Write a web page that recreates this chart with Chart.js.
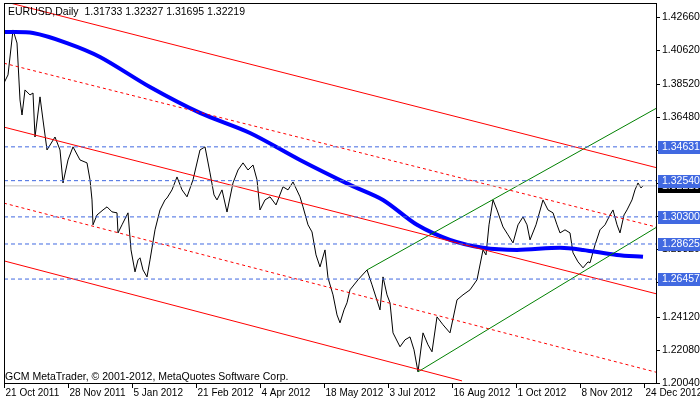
<!DOCTYPE html>
<html><head><meta charset="utf-8">
<script src="https://cdn.jsdelivr.net/npm/chart.js@4"></script>
<style>html,body{margin:0;padding:0;background:#fff}#c{display:block}</style>
</head><body>
<div style="width:700px;height:402px"><canvas id="c"></canvas></div>
<script>
// bar index (daily bars), close prices
const priceBars = [0,2,4.5,6.5,8,9,10.5,13,14.5,15.5,18,19.5,21.5,25.5,28,29.5,32,34.5,38,41.5,43,44,44.5,46.5,49.5,51.5,54,56.5,57,59,62,63.5,65.5,67,68,69.5,71.5,73,75.5,78,80.5,81.5,84,86.5,89,91.5,94.5,98,100.5,103,105,106.5,109,111.5,114.5,117,119.5,122,124.5,126.5,128,130.5,133,136,139.5,142,144.5,148,149.5,152,154,156,158,160.5,162,164.5,166.5,168,170,171.5,173,177,181.5,184,188,189.5,191.5,193,194.5,198,200.5,203,205,207,209.5,212,214,216.5,219.5,223,226.5,229.5,233,236.5,239.5,241,242.5,244.5,246.5,249.5,252,254.5,257,259.5,261.5,263,266,269.5,272,274.5,276.5,278,280.5,283,284.5,287,289.5,292,293,295.5,298,300.5,303,304.5,306.5,308,310,311.5,314,315.5,317,318.5,319.5];
const closes = [1.3858,1.3908,1.4186,1.4105,1.3753,1.3660,1.3815,1.3784,1.3796,1.3524,1.3772,1.3629,1.3444,1.3524,1.3444,1.3240,1.3382,1.3463,1.3382,1.3364,1.3259,1.3135,1.2981,1.3042,1.3073,1.3092,1.3061,1.3055,1.2931,1.2981,1.3055,1.2826,1.2690,1.2764,1.2777,1.2702,1.2659,1.2764,1.2950,1.3073,1.3135,1.3147,1.3197,1.3277,1.3197,1.3154,1.3259,1.3444,1.3463,1.3302,1.3166,1.3135,1.3197,1.3060,1.3240,1.3320,1.3364,1.3320,1.3351,1.3259,1.3073,1.3135,1.3154,1.3104,1.3216,1.3197,1.3246,1.3154,1.3092,1.2981,1.2937,1.2795,1.2721,1.2826,1.2653,1.2548,1.2424,1.2375,1.2455,1.2499,1.2579,1.2641,1.2702,1.2610,1.2455,1.2659,1.2548,1.2499,1.2313,1.2227,1.2270,1.2288,1.2208,1.2072,1.2313,1.2239,1.2196,1.2412,1.2363,1.2313,1.2517,1.2548,1.2579,1.2641,1.2826,1.2795,1.2981,1.3135,1.3073,1.2968,1.2919,1.2869,1.2981,1.3030,1.2981,1.2888,1.2981,1.3135,1.3073,1.3055,1.2981,1.2931,1.2950,1.2931,1.2808,1.2752,1.2715,1.2752,1.2746,1.2857,1.2950,1.2981,1.3042,1.3073,1.2981,1.2931,1.3042,1.3073,1.3135,1.3197,1.3240,1.3209,1.3222];
const maBars = [0,14.5,31.5,48,73,98,123,148,173,189.5,206.5,223,239.5,256.5,278,289.5,306.5,319.5];
const maValues = [1.4173,1.4167,1.4105,1.4019,1.3833,1.3673,1.3549,1.3382,1.3228,1.3135,1.2981,1.2888,1.2839,1.2826,1.2839,1.2826,1.2795,1.2783];
// channel lines: [bar1, price1, bar2, price2]
const redSolid = [[0,1.4362,326,1.3335],[0,1.3585,326,1.2555],[0,1.2758,229,1.2016]];
const redDashed = [[0,1.3980,326,1.2968],[0,1.3115,326,1.2070]];
const greenLines = [[181.5,1.2702,326.5,1.3704],[207,1.2072,326.5,1.2968]];
const levels = [1.34631,1.32540,1.30300,1.28625,1.26457];
const lastPrice = 1.32219;
const yTickValues = [1.42660,1.40620,1.38520,1.36480,1.34440,1.32400,1.30360,1.28320,1.26280,1.24120,1.22080,1.20040];
const xTickBars = [0,32,64,96,128,160,192,224,256,288,320];
const xTickLabels = ['21 Oct 2011','28 Nov 2011','5 Jan 2012','21 Feb 2012','4 Apr 2012','18 May 2012','3 Jul 2012','16 Aug 2012','1 Oct 2012','8 Nov 2012','24 Dec 2012'];
const title = 'EURUSD,Daily  1.31733 1.32327 1.31695 1.32219';
const copyright = 'GCM MetaTrader, © 2001-2012, MetaQuotes Software Corp.';

const FONT = '"Liberation Sans", Arial, sans-serif';
const seg = (s,color,dash)=>({data:[{x:s[0],y:s[1]},{x:s[2],y:s[3]}],borderColor:color,borderWidth:1,borderDash:dash||[],pointRadius:0,tension:0});
const datasets = [];
levels.forEach(v=>datasets.push(seg([0,v,326,v],'#4169e1',[4,3])));
datasets.push(seg([0,lastPrice,326,lastPrice],'#c0c0c0'));
redSolid.forEach(s=>datasets.push(seg(s,'#ff0000')));
redDashed.forEach(s=>datasets.push(seg(s,'#ff0000',[3,3])));
greenLines.forEach(s=>datasets.push(seg(s,'#008000')));
datasets.push({data:maBars.map((b,i)=>({x:b,y:maValues[i]})),borderColor:'#0000ff',borderWidth:4,pointRadius:0,tension:0.3});
datasets.push({data:priceBars.map((b,i)=>({x:b,y:closes[i]})),borderColor:'#000',borderWidth:1,pointRadius:0,tension:0});

const deco = {id:'deco',afterDraw(chart){
  const {ctx,chartArea:a,scales:{x,y}}=chart;
  ctx.save();
  ctx.strokeStyle='#000';ctx.lineWidth=1;
  ctx.strokeRect(a.left+0.5,a.top+0.5,a.right-a.left,a.bottom-a.top);
  ctx.font='10.5px '+FONT;ctx.textBaseline='middle';ctx.fillStyle='#000';
  ctx.fillText(title,8,12);
  ctx.fillText(copyright,5,377);
  ctx.font='10px '+FONT;
  xTickBars.forEach((b,i)=>{const px=Math.round(x.getPixelForValue(b))+0.5;
    ctx.beginPath();ctx.moveTo(px,a.bottom);ctx.lineTo(px,a.bottom+5);ctx.stroke();
    ctx.fillText(xTickLabels[i],px+1,a.bottom+10);});
  ctx.font='10.5px '+FONT;
  yTickValues.forEach(v=>{const py=Math.round(y.getPixelForValue(v))+0.5;
    ctx.beginPath();ctx.moveTo(a.right,py);ctx.lineTo(a.right+4,py);ctx.stroke();
    ctx.fillText(v.toFixed(5),a.right+6,py);});
  const box=(v,bg)=>{const py=Math.round(y.getPixelForValue(v));ctx.fillStyle=bg;ctx.fillRect(a.right+2,py-6,43,13);ctx.fillStyle='#fff';ctx.fillText(v.toFixed(5),a.right+6,py+0.5);};
  box(lastPrice,'#000');
  levels.forEach(v=>box(v,'#4169e1'));
  ctx.restore();
}};

new Chart(document.getElementById('c'),{
  type:'line',
  data:{datasets},
  options:{responsive:true,maintainAspectRatio:false,animation:false,
    layout:{padding:{top:3,left:4,right:0,bottom:0}},
    plugins:{legend:{display:false},tooltip:{enabled:false}},
    scales:{
      x:{type:'linear',min:0,max:326,
        afterFit:s=>{s.height=19;},
        grid:{display:false},border:{display:false},ticks:{display:false}},
      y:{type:'linear',position:'right',min:1.2003,max:1.43525,
        afterFit:s=>{s.width=44;},
        grid:{display:false},border:{display:false},ticks:{display:false}}
    }},
  plugins:[deco]
});
</script>
</body></html>
